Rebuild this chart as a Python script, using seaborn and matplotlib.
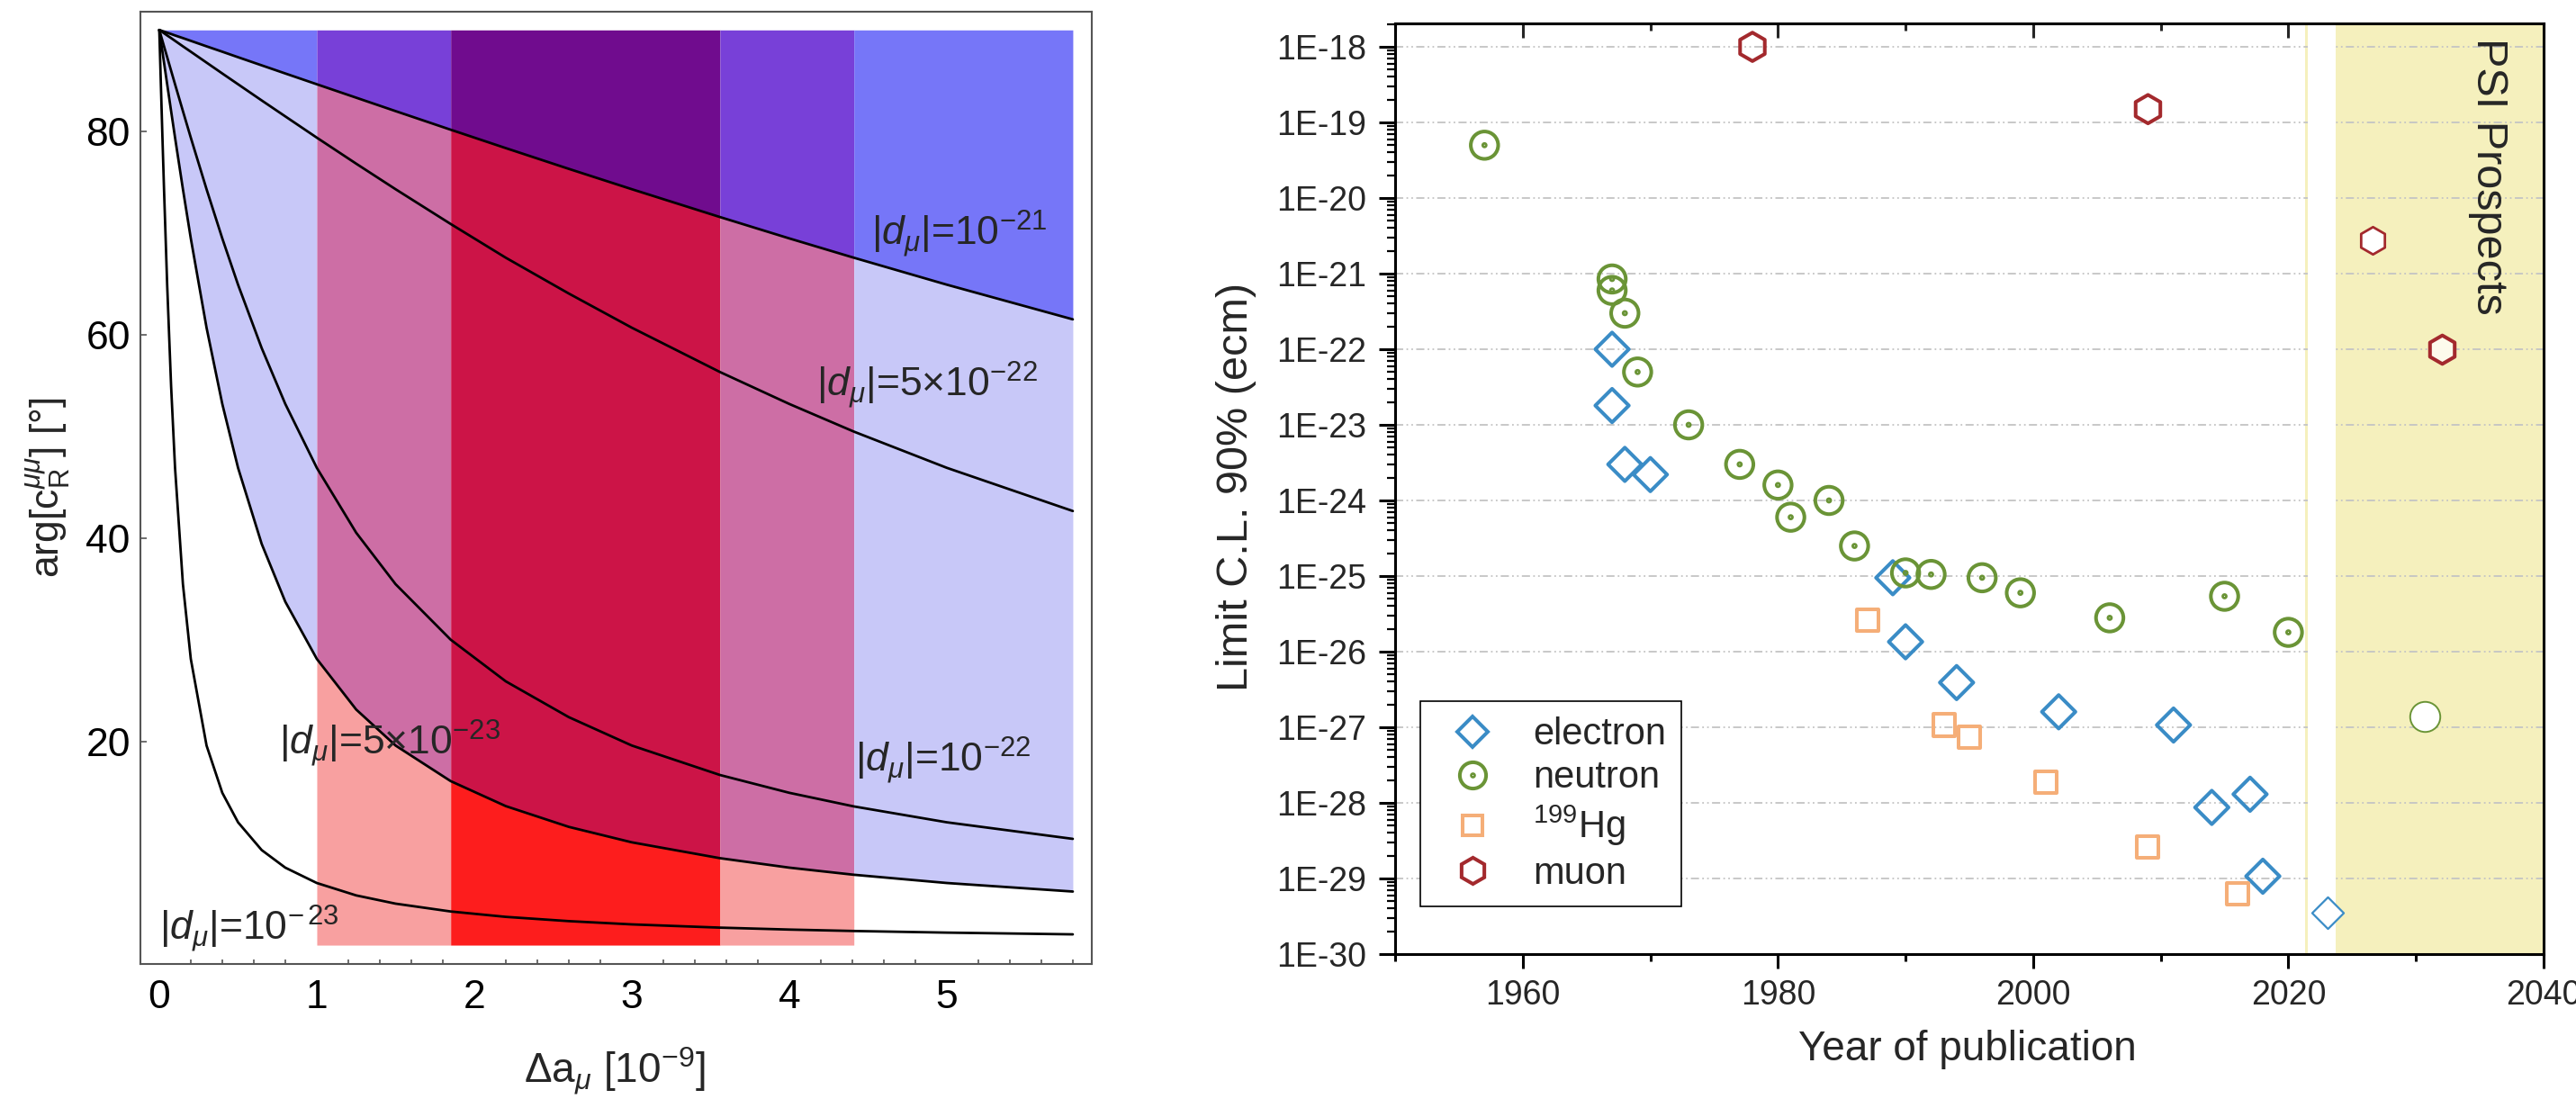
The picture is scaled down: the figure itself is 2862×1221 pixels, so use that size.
import numpy as np
import pandas as pd
import seaborn as sns
import matplotlib
matplotlib.use("Agg")
import matplotlib.pyplot as plt
from matplotlib.lines import Line2D
from matplotlib.path import Path
from matplotlib.ticker import MultipleLocator, LogLocator, NullFormatter, FuncFormatter

sns.set_style("white")
plt.rcParams['font.family'] = ['Liberation Sans', 'DejaVu Sans']
plt.rcParams['mathtext.fontset'] = 'custom'
plt.rcParams['mathtext.rm'] = 'Liberation Sans'
plt.rcParams['mathtext.it'] = 'Liberation Sans:italic'
plt.rcParams['mathtext.bf'] = 'Liberation Sans:bold'

# ---- left panel: arg[c_R] vs delta a_mu ----
delta_a = [0, 0.01, 0.02, 0.03, 0.05, 0.075, 0.1, 0.15, 0.2, 0.3, 0.4, 0.5, 0.65, 0.8,
           1.0, 1.25, 1.5, 1.85, 2.2, 2.6, 3.0, 3.56, 4.0, 4.41, 5.0, 5.8]
arg_1e21 = [90, 89.95, 89.89, 89.84, 89.73, 89.60, 89.46, 89.20, 88.93, 88.39, 87.86, 87.32, 86.52,
            85.72, 84.66, 83.34, 82.02, 80.19, 78.38, 76.34, 74.34, 71.60, 69.50, 67.60, 64.95, 61.54]
arg_5e22 = [90, 89.89, 89.79, 89.68, 89.46, 89.20, 88.93, 88.39, 87.86, 86.79, 85.72, 84.66, 83.07,
            81.50, 79.41, 76.85, 74.34, 70.92, 67.60, 64.08, 60.72, 56.36, 53.22, 50.50, 46.94, 42.69]
arg_1e22 = [90, 89.46, 88.93, 88.39, 87.33, 85.99, 84.66, 82.02, 79.41, 74.34, 69.50, 64.95, 58.72,
            53.22, 46.94, 40.56, 35.50, 30.04, 25.94, 22.42, 19.63, 16.73, 14.98, 13.64, 12.08, 10.45]
arg_5e23 = [90, 88.93, 87.86, 86.79, 84.66, 82.02, 79.41, 74.34, 69.50, 60.72, 53.22, 46.94, 39.46,
            33.77, 28.15, 23.17, 19.63, 16.13, 13.67, 11.63, 10.11, 8.55, 7.62, 6.92, 6.11, 5.27]
arg_1e23 = [90, 84.66, 79.41, 74.34, 64.95, 54.97, 46.94, 35.50, 28.15, 19.63, 14.98, 12.08, 9.35,
            7.62, 6.11, 4.89, 4.08, 3.31, 2.78, 2.36, 2.04, 1.72, 1.53, 1.39, 1.23, 1.06]
curve_names = ['1e-21', '5e-22', '1e-22', '5e-23', '1e-23']
band_2sigma = [1.0, 4.41]
band_1sigma = [1.85, 3.56]

# ---- right panel: EDM limits ----
electron_year = [1967, 1967, 1968, 1970, 1989, 1990, 1994, 2002, 2011, 2014, 2017, 2018]
electron_limit = [1e-22, 1.8e-23, 3e-24, 2.2e-24, 9.5e-26, 1.35e-26, 3.9e-27, 1.6e-27, 1.07e-27,
                  8.7e-29, 1.3e-28, 1.07e-29]
neutron_year = [1957, 1967, 1967, 1968, 1969, 1973, 1977, 1980, 1981, 1984, 1986, 1990, 1992,
                1996, 1999, 2006, 2015, 2020]
neutron_limit = [5e-20, 8.5e-22, 6e-22, 3e-22, 5e-23, 1e-23, 3e-24, 1.6e-24, 6e-25, 1e-24, 2.5e-25,
                 1.1e-25, 1.05e-25, 9.5e-26, 6e-26, 2.8e-26, 5.4e-26, 1.8e-26]
hg_year = [1987, 1993, 1995, 2001, 2009, 2016]
hg_limit = [2.6e-26, 1.07e-27, 7.3e-28, 1.9e-28, 2.6e-29, 6.3e-30]
muon_year = [1978, 2009]
muon_limit = [1e-18, 1.5e-19]
# PSI prospects
electron_prospect_year = [2023.1]
electron_prospect_limit = [3.5e-30]
neutron_prospect_year = [2030.7]
neutron_prospect_limit = [1.4e-27]
muon_prospect_year = [2026.6, 2032]
muon_prospect_limit = [2.75e-21, 1e-22]
prospect_span = [2021.3, 2040]

fig = plt.figure(figsize=(28.62, 12.21), dpi=100)
ax1 = fig.add_axes([0.0545, 0.1228, 0.3693, 0.8666])
ax2 = fig.add_axes([0.5416, 0.1319, 0.4458, 0.8468])

# ---------------- left panel ----------------
x = np.array(delta_a)
lo_curve = np.array(arg_5e23)
hi_curve = np.array(arg_1e21)
edges = [0.0, band_2sigma[0], band_1sigma[0], band_1sigma[1], band_2sigma[1], x[-1]]
shade = ['none', 'outer', 'inner', 'outer', 'none']
region_colors = {'none': (None, '#c8c8f8', '#7676f8'),
                 'outer': ('#f8a0a0', '#cd6ea5', '#7840d8'),
                 'inner': ('#fd1d1d', '#cc1447', '#700c8e')}
for a, b, key in zip(edges[:-1], edges[1:], shade):
    m = (x >= a - 1e-9) & (x <= b + 1e-9)
    bottom_c, mid_c, top_c = region_colors[key]
    if bottom_c:
        ax1.fill_between(x[m], 0, lo_curve[m], color=bottom_c, lw=0, antialiased=False)
    ax1.fill_between(x[m], lo_curve[m], hi_curve[m], color=mid_c, lw=0, antialiased=False)
    ax1.fill_between(x[m], hi_curve[m], 90, color=top_c, lw=0, antialiased=False)

curves = pd.DataFrame({
    'delta_a': np.tile(delta_a, len(curve_names)),
    'arg': np.concatenate([arg_1e21, arg_5e22, arg_1e22, arg_5e23, arg_1e23]),
    'dmu': np.repeat(curve_names, len(delta_a)),
})
sns.lineplot(data=curves, x='delta_a', y='arg', units='dmu', estimator=None, sort=False,
             color='black', linewidth=2.0, legend=False, ax=ax1)

lab_kw = dict(fontsize=32, ha='left', va='baseline', zorder=4)
ax1.text(4.52, 68.85, r'$|d_{\mu}|$=10$^{-21}$', **lab_kw)
ax1.text(4.17, 54.0, r'$|d_{\mu}|$=5×10$^{-22}$', **lab_kw)
ax1.text(4.42, 17.1, r'$|d_{\mu}|$=10$^{-22}$', **lab_kw)
ax1.text(0.76, 18.8, r'$|d_{\mu}|$=5×10$^{-23}$', **lab_kw)
ax1.text(0.0, 0.53, r'$|d_{\mu}|$=10$^{-\,23}$', **lab_kw)

ax1.set_xlim(-0.12, 5.92)
ax1.set_ylim(-1.86, 91.8)
ax1.set_xticks(range(6))
ax1.xaxis.set_minor_locator(MultipleLocator(0.2))
ax1.set_yticks([20, 40, 60, 80])
ax1.tick_params(axis='both', which='both', direction='in', color='#555555', labelcolor='black',
                labelsize=32, top=False, right=False)
ax1.tick_params(axis='x', which='major', length=6.5, width=1.2, pad=12)
ax1.tick_params(axis='x', which='minor', length=3.6, width=1.2, bottom=True)
ax1.tick_params(axis='y', which='major', length=5, width=1.2, pad=8, left=True)
for sp in ax1.spines.values():
    sp.set_color('#555555')
    sp.set_linewidth(1.5)
ax1.set_xlabel(r'$\Delta$a$_{\mu}$ [10$^{-9}$]', fontsize=33)
ax1.set_ylabel(r'arg[c$_{\mathrm{R}}^{\mu\mu}$] [°]', fontsize=32)
ax1.xaxis.label.set_va('center')
ax1.yaxis.label.set_va('center')
ax1.xaxis.set_label_coords(0.4986, -0.112)
ax1.yaxis.set_label_coords(-0.0965, 0.5)

# ---------------- right panel ----------------
ax2.set_yscale('log')
ax2.set_xlim(1950, 2040)
ax2.set_ylim(1e-30, 10 ** -17.69)
ax2.set_axisbelow(True)

ax2.axvspan(prospect_span[0], prospect_span[1], color='#f5f0bd', lw=0, zorder=0.2)
ax2.axvspan(2021.55, 2023.7, color='white', lw=0, zorder=0.8)

ring_dot = Path.make_compound_path(Path.unit_circle(), Path.circle((0, 0), 0.09))

blue, green, orange, red = '#3a8cc6', '#6a9436', '#f5ae78', '#a3292d'
series = [
    (electron_year, electron_limit, 'D', blue, 360),
    (neutron_year, neutron_limit, ring_dot, green, 480),
    (hg_year, hg_limit, 's', orange, 300),
    (muon_year, muon_limit, 'h', red, 520),
]
for yrs, lims, mk, col, size in series:
    df = pd.DataFrame({'year': yrs, 'limit': lims})
    sns.scatterplot(data=df, x='year', y='limit', marker=mk, s=size, facecolor='none',
                    edgecolor=col, linewidth=2.9, ax=ax2, zorder=3)

sns.scatterplot(x=electron_prospect_year, y=electron_prospect_limit, marker='D', s=320,
                facecolor='white', edgecolor=blue, linewidth=1.6, ax=ax2, zorder=3)
sns.scatterplot(x=neutron_prospect_year, y=neutron_prospect_limit, marker='o', s=580,
                facecolor='white', edgecolor=green, linewidth=1.4, ax=ax2, zorder=3)
sns.scatterplot(x=muon_prospect_year[:1], y=muon_prospect_limit[:1], marker='h', s=480,
                facecolor='white', edgecolor=red, linewidth=2.0, ax=ax2, zorder=3)
sns.scatterplot(x=muon_prospect_year[1:], y=muon_prospect_limit[1:], marker='h', s=520,
                facecolor='#fdfbec', edgecolor=red, linewidth=2.9, ax=ax2, zorder=3)

ax2.text(2035.7, 10 ** -17.88, 'PSI Prospects', rotation=270, ha='center', va='top', fontsize=35)

ax2.grid(axis='y', which='major', color='#c4c4c4', linestyle=(0, (5, 2, 1, 2, 1, 2)), linewidth=1.3)
ax2.grid(axis='x', visible=False)

ax2.xaxis.set_major_locator(MultipleLocator(20))
ax2.xaxis.set_minor_locator(MultipleLocator(10))
ax2.yaxis.set_major_locator(LogLocator(base=10, numticks=100))
ax2.yaxis.set_minor_locator(LogLocator(base=10, subs=np.arange(2, 10), numticks=100))
ax2.yaxis.set_minor_formatter(NullFormatter())
ax2.yaxis.set_major_formatter(FuncFormatter(lambda v, p: f'1E{int(round(np.log10(v)))}'))
ax2.tick_params(axis='both', which='both', direction='out', color='black', labelsize=27,
                top=False, right=False, bottom=True, left=True)
ax2.tick_params(axis='x', which='major', length=11.5, width=2.2, pad=9)
ax2.tick_params(axis='x', which='minor', length=5.5, width=2.2)
ax2.tick_params(axis='y', which='major', length=13, width=2.2, pad=10)
ax2.tick_params(axis='y', which='minor', length=6.5, width=1.6)
for sp in ax2.spines.values():
    sp.set_color('black')
    sp.set_linewidth(2.2)

sec_x = ax2.secondary_xaxis('top')
sec_x.xaxis.set_major_locator(MultipleLocator(20))
sec_x.xaxis.set_minor_locator(MultipleLocator(10))
sec_x.tick_params(axis='x', which='both', direction='in', labeltop=False, width=2.2)
sec_x.tick_params(axis='x', which='major', length=11.5)
sec_x.tick_params(axis='x', which='minor', length=5.5)
sec_x.spines['top'].set_linewidth(2.2)

sec_y = ax2.secondary_yaxis('right')
sec_y.yaxis.set_major_locator(LogLocator(base=10, numticks=100))
sec_y.yaxis.set_minor_locator(LogLocator(base=10, subs=np.arange(2, 10), numticks=100))
sec_y.tick_params(axis='y', which='both', direction='in', labelright=False)
sec_y.tick_params(axis='y', which='major', length=13, width=2.2)
sec_y.tick_params(axis='y', which='minor', length=6.5, width=1.6)
sec_y.spines['right'].set_linewidth(2.2)

ax2.set_xlabel('Year of publication', fontsize=33)
ax2.set_ylabel('Limit C.L. 90% (ecm)', fontsize=35)
ax2.xaxis.label.set_va('center')
ax2.yaxis.label.set_va('center')
ax2.xaxis.set_label_coords(0.498, -0.1025)
ax2.yaxis.set_label_coords(-0.138, 0.502)

handles = [
    Line2D([], [], ls='none', marker='D', ms=17, mfc='none', mec=blue, mew=2.9),
    Line2D([], [], ls='none', marker=ring_dot, ms=21, mfc='none', mec=green, mew=2.9),
    Line2D([], [], ls='none', marker='s', ms=16, mfc='none', mec=orange, mew=2.9),
    Line2D([], [], ls='none', marker='h', ms=21, mfc='none', mec=red, mew=2.9),
]
labels = ['electron', 'neutron', r'$^{199}$Hg', 'muon']
leg = ax2.legend(handles, labels, loc='lower left', bbox_to_anchor=(0.022, 0.051),
                 borderaxespad=0, fontsize=30, frameon=True, fancybox=False, framealpha=1,
                 edgecolor='black', labelspacing=0.2, handlelength=2.0, handletextpad=0.6,
                 borderpad=0.4)
leg.get_frame().set_linewidth(1.2)
leg.set_zorder(5)

fig.savefig('out.png', dpi=100)
